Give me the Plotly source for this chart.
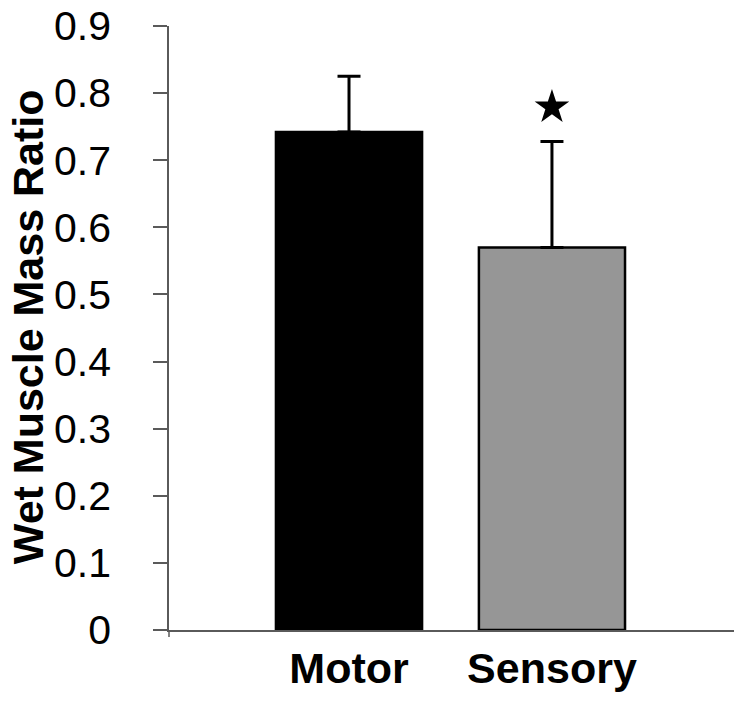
import plotly.graph_objects as go

categories = ["Motor", "Sensory"]
values = [0.742, 0.570]
errors = [0.083, 0.158]
bar_colors = ["#000000", "#969696"]
star_values = [None, 0.779]
y_ticks = [0, 0.1, 0.2, 0.3, 0.4, 0.5, 0.6, 0.7, 0.8, 0.9]
y_tick_labels = ["0", "0.1", "0.2", "0.3", "0.4", "0.5", "0.6", "0.7", "0.8", "0.9"]

xpos = list(range(len(categories)))

fig = go.Figure()
fig.add_trace(go.Bar(
    x=xpos, y=values, width=0.72,
    marker=dict(color=bar_colors, line=dict(color="black", width=2.5)),
    error_y=dict(type="data", array=errors, symmetric=False, arrayminus=[0, 0],
                 color="black", thickness=3, width=11.5),
    showlegend=False, hoverinfo="skip",
))
sx = [x for x, s in zip(xpos, star_values) if s is not None]
sy = [s for s in star_values if s is not None]
fig.add_trace(go.Scatter(
    x=sx, y=sy, mode="markers",
    marker=dict(symbol="star", size=26, color="black", line=dict(width=0)),
    showlegend=False, hoverinfo="skip", cliponaxis=False,
))

axis_col = "#5a5a5a"
fig.update_layout(
    width=750, height=702,
    margin=dict(l=169, r=16, t=26, b=72, pad=0, autoexpand=False),
    paper_bgcolor="white", plot_bgcolor="white",
    font=dict(family="Liberation Sans, Arial, sans-serif", color="black"),
    xaxis=dict(
        range=[-0.887, 1.897], tickmode="array", tickvals=xpos, ticktext=categories,
        showline=True, linecolor=axis_col, linewidth=1.5, showgrid=False, zeroline=False,
        ticks="", tickfont=dict(size=43, family="Liberation Sans, Arial, sans-serif", weight="bold"),
        ticklabelstandoff=0, automargin=False, ticklabeloverflow="allow",
    ),
    yaxis=dict(
        range=[0, 0.9], tickmode="array", tickvals=y_ticks, ticktext=y_tick_labels,
        showline=True, linecolor=axis_col, linewidth=1.5, showgrid=False, zeroline=False,
        ticks="outside", ticklen=14, tickwidth=1.5, tickcolor=axis_col,
        tickfont=dict(size=41), ticklabelstandoff=34, automargin=False,
        ticklabeloverflow="allow",
    ),
    shapes=[dict(type="line", xref="paper", yref="paper", x0=0, x1=0, y0=0, y1=-0.0116,
                 line=dict(color=axis_col, width=1.5))],
    annotations=[dict(text="<b>Wet Muscle Mass Ratio</b>", textangle=-90, xref="paper", yref="paper",
                      x=-0.2496, y=0.503, xanchor="center", yanchor="middle", showarrow=False,
                      font=dict(size=43, color="black"))],
)

fig.write_html("out.html", config={"displayModeBar": False},
               post_script="document.body.style.margin='0';")
